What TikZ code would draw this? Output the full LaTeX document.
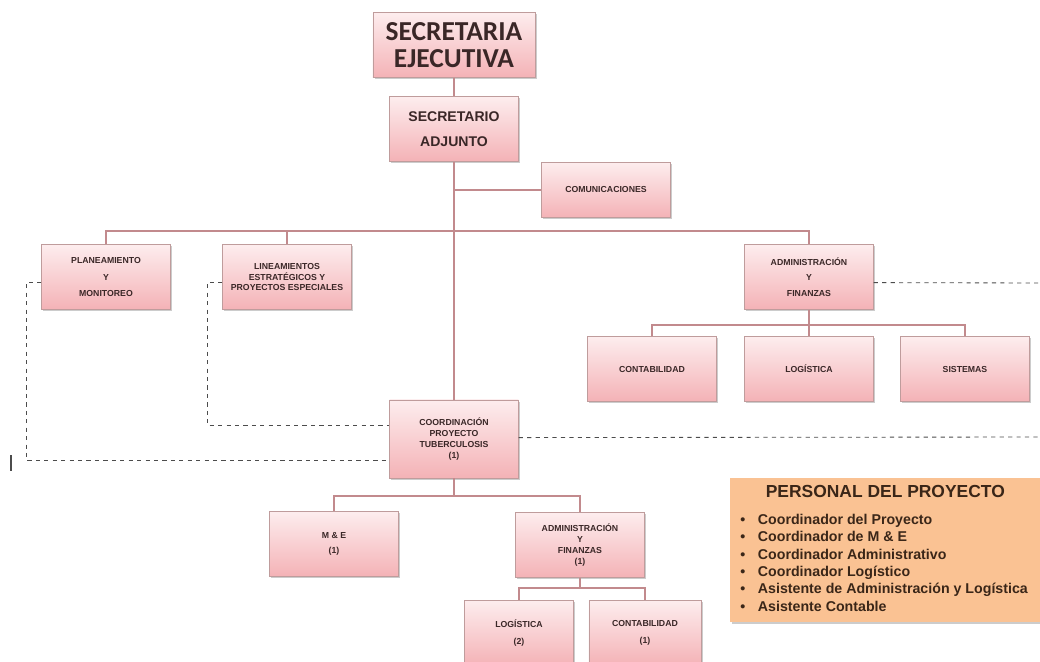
\documentclass[tikz,border=0pt]{standalone}
\usepackage{fontspec}
\setmainfont{Liberation Sans}
\newfontfamily\titlefont{Carlito}
\usetikzlibrary{positioning,shadows}
\definecolor{boxtop}{HTML}{FDEDEE}
\definecolor{boxbot}{HTML}{F4B2B6}
\definecolor{boxline}{HTML}{BF9C9C}
\definecolor{boxtext}{HTML}{3A2727}
\definecolor{linkcol}{HTML}{C28A8D}
\definecolor{persfill}{HTML}{FAC293}
\definecolor{perstext}{HTML}{3A2618}

\begin{document}
\begin{tikzpicture}[
  x=0.025cm, y=-0.025cm,
  unit/.style={draw=boxline, top color=boxtop, bottom color=boxbot,
               text=boxtext, align=center, inner sep=1pt,
               font=\fontsize{6.2}{7.8}\selectfont\bfseries,
               minimum width=3.22cm, minimum height=1.63cm,
               drop shadow={opacity=0.4, shadow xshift=1.2pt, shadow yshift=-1.2pt}},
  link/.style={draw=linkcol, line width=1.3pt},
  aux/.style={draw=gray!60!black, dashed, line width=0.6pt},
]
\useasboundingbox (0,0) rectangle (1040,662);

%─── Top of the chart ────────────────────────────────────────────────────────
\node[unit, minimum width=4.05cm,
      font=\titlefont\fontsize{19.5}{19.5}\selectfont\bfseries] (sej) at (454,45)
      {SECRETARIA\\EJECUTIVA};
\node[unit, font=\fontsize{10}{17.5}\selectfont\bfseries] (sadj) at (454,129)
      {SECRETARIO\\ADJUNTO};
\node[unit, minimum height=1.38cm] (com) at (606,190) {COMUNICACIONES};

%─── Second level ────────────────────────────────────────────────────────────
\node[unit] (plan) at (106,277) {PLANEAMIENTO\\[4pt]Y\\[4pt]MONITOREO};
\node[unit] (lin)  at (287,277) {LINEAMIENTOS\\ESTRATÉGICOS Y\\PROYECTOS ESPECIALES};
\node[unit] (adm)  at (809,277) {ADMINISTRACIÓN\\[3pt]Y\\[3pt]FINANZAS};

% administration units
\node[unit] (cont) at (652,369) {CONTABILIDAD};
\node[unit] (log)  at (809,369) {LOGÍSTICA};
\node[unit] (sis)  at (965,369) {SISTEMAS};

%─── Project coordination ────────────────────────────────────────────────────
\node[unit, minimum height=1.95cm] (coord) at (454,439)
      {COORDINACIÓN\\PROYECTO\\TUBERCULOSIS\\(1)};
\node[unit] (mye)  at (334,544) {M \& E\\[3pt](1)};
\node[unit] (adm2) at (580,545) {ADMINISTRACIÓN\\Y\\FINANZAS\\(1)};
\node[unit, minimum width=2.72cm, anchor=north] (log2)  at (519,600) {LOGÍSTICA\\[4pt](2)};
\node[unit, minimum width=2.8cm, anchor=north]  (cont2) at (645,600) {CONTABILIDAD\\[4pt](1)};

%─── Solid links ─────────────────────────────────────────────────────────────
\coordinate (bus)   at (454,231);
\coordinate (abus)  at (809,325);
\coordinate (cbus)  at (454,496);
\coordinate (a2bus) at (580,588);

\draw[link] (sej) -- (sadj);
\draw[link] (sadj) -- (coord);
\draw[link] (sadj.south |- com.west) -- (com.west);
\draw[link] (plan.north) |- (bus) -| (adm.north);
\draw[link] (lin.north) -- (lin.north |- bus);
\draw[link] (adm) -- (log);
\draw[link] (cont.north) |- (abus) -| (sis.north);
\draw[link] (coord) -- (cbus);
\draw[link] (mye.north) |- (cbus) -| (adm2.north);
\draw[link] (adm2.south) -- (a2bus);
\draw[link] (log2.north) |- (a2bus) -| (cont2.north);

%─── Dashed links ────────────────────────────────────────────────────────────
\coordinate (pturn) at (26,460);
\coordinate (lturn) at (207,425);
\coordinate (aend)  at (1040,283);
\coordinate (cend)  at (1040,437);

\draw[aux] ([yshift=-4pt]plan.west) -| (pturn) -- (pturn -| coord.west);
\draw[aux] ([yshift=-4pt]lin.west) -| (lturn) -- (lturn -| coord.west);
\draw[aux] ([yshift=-4pt]adm.east) -- (aend);
\draw[aux] ([yshift=1pt]coord.east) -- (cend);
\draw[gray!60!black, line width=0.8pt] (11,455) -- (11,471);

%─── Project staff ───────────────────────────────────────────────────────────
\node[fill=persfill, anchor=north west,
      minimum width=7.75cm, minimum height=3.6cm,
      drop shadow={opacity=0.4, shadow xshift=1.2pt, shadow yshift=-1.5pt}]
      (pers) at (730,478) {};
\node[font=\fontsize{12.4}{14}\selectfont\bfseries, text=perstext,
      below=2pt of pers.north] (perstitle) {PERSONAL DEL PROYECTO};
\node[font=\fontsize{10.1}{12.3}\selectfont\bfseries, text=perstext,
      align=left, anchor=north west, inner sep=0pt]
      (perslist) at (740,514)
      {\textbullet\hspace{9pt}Coordinador del Proyecto\\
       \textbullet\hspace{9pt}Coordinador de M \& E\\
       \textbullet\hspace{9pt}Coordinador Administrativo\\
       \textbullet\hspace{9pt}Coordinador Logístico\\
       \textbullet\hspace{9pt}Asistente de Administración y Logística\\
       \textbullet\hspace{9pt}Asistente Contable};

\end{tikzpicture}
\end{document}
